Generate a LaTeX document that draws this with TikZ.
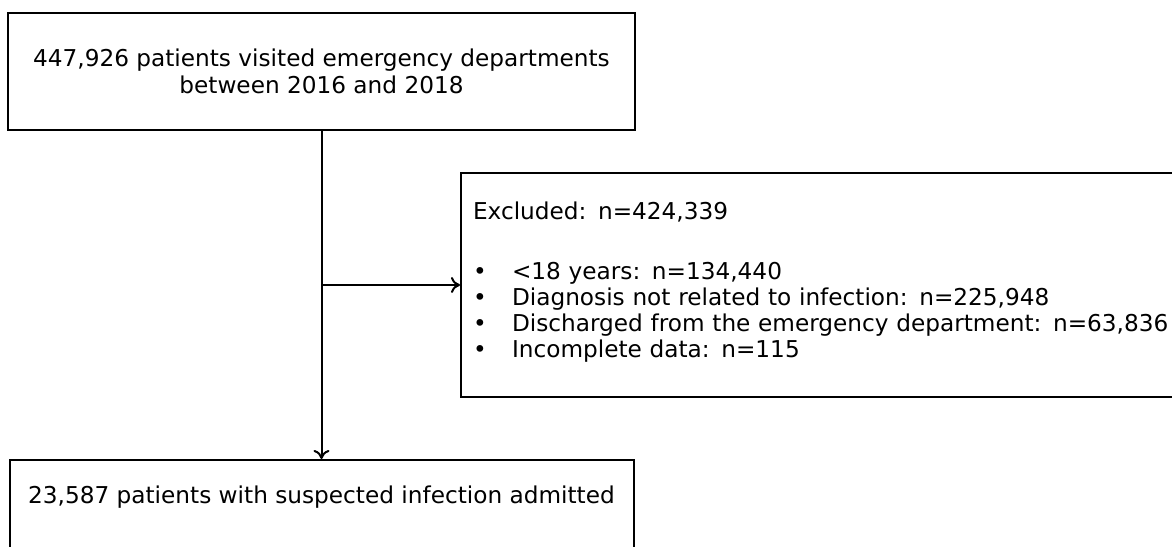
\documentclass[tikz,border=0pt]{standalone}
\usepackage{fontspec}
\setmainfont{DejaVu Sans}
\usetikzlibrary{positioning, arrows.meta}

\newcommand{\bul}{\makebox[39pt][l]{\textbullet}}

\begin{document}
\begin{tikzpicture}[x=1pt, y=1pt, line width=2pt, >={To[length=9pt, width=16pt]},
  every node/.style={draw, inner sep=0pt, font=\fontsize{23.2}{27}\selectfont}]
\useasboundingbox (0,0) rectangle (1172,546);
\node[minimum width=627pt, minimum height=117pt, align=center] (visited) at (321.5,474.5)
  {447,926 patients visited emergency departments\\between 2016 and 2018};
\node[below=328pt of visited, minimum width=624pt, text height=44pt, text depth=80pt] (admit)
  {23,587 patients with suspected infection admitted};
\node[text width=740pt, inner xsep=12pt, minimum height=224pt, align=left] (excl) at (843,261)
  {\fontsize{23.2}{26}\selectfont Excluded: n=424,339\\[34pt]
   \bul<18 years: n=134,440\\
   \bul Diagnosis not related to infection: n=225,948\\
   \bul Discharged from the emergency department: n=63,836\\
   \bul Incomplete data: n=115\\[-16pt]\mbox{}};
\draw[->] (visited) -- (admit);
\draw[->] (visited.south |- excl.west) -- (excl.west);
\end{tikzpicture}
\end{document}
